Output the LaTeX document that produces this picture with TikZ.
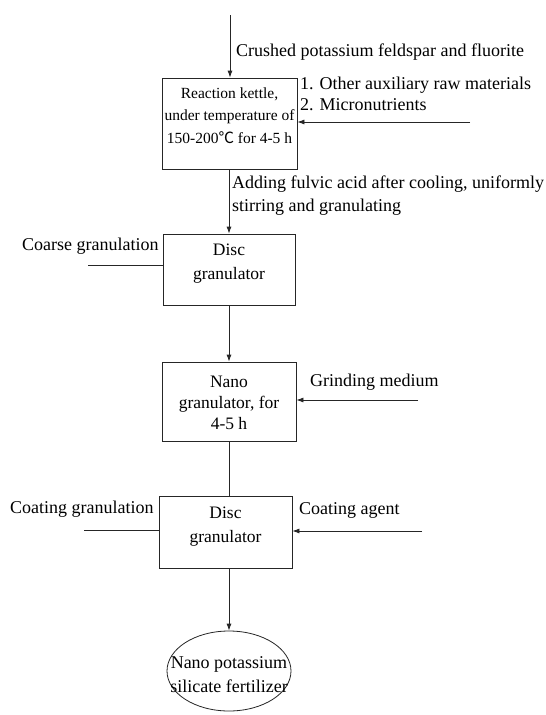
\documentclass[tikz,border=0pt]{standalone}
\usepackage{fontspec}
\setmainfont{Liberation Serif}
\newfontfamily\cjkdeg{Noto Sans CJK SC}
\usetikzlibrary{arrows.meta,shapes.geometric}
\begin{document}
\begin{tikzpicture}[x=1pt,y=-1pt,
  boxst/.style={draw=black!85,line width=0.8pt,fill=white,inner sep=0pt,rectangle},
  lbl/.style={inner sep=0pt,anchor=west,align=left,font=\fontsize{18}{21}\selectfont},
  btxt/.style={inner sep=0pt,align=center,font=\fontsize{17.5}{24}\selectfont},
  conn/.style={draw=black!85,line width=0.8pt},
  arr/.style={conn,-{Latex[length=7pt,width=5pt]}}]
\useasboundingbox[fill=white] (0,0) rectangle (546,715);

% side labels (drawn first so boxes overlap them)
\node[lbl] (crushed) at (236,52) {Crushed potassium feldspar and fluorite};
\node[lbl] (other) at (300,93.5) {1. Other auxiliary raw materials\\2. Micronutrients};
\node[lbl,font=\fontsize{18}{23}\selectfont] (adding) at (232,195.5) {Adding fulvic acid after cooling, uniformly\\stirring and granulating};
\node[lbl] (coarse) at (22,246) {Coarse granulation};
\node[lbl] (grind) at (310,382) {Grinding medium};
\node[lbl] (coatg) at (10,509) {Coating granulation};
\node[lbl] (coata) at (299,510) {Coating agent};

% boxes
\node[boxst,minimum width=135,minimum height=91] (rk) at (229.5,123.5) {};
\node[btxt,font=\fontsize{15.5}{22.5}\selectfont] (rkt) at (229.5,115.5) {Reaction kettle,\\under temperature of\\150-200{\cjkdeg\char"2103}\ for 4-5 h};
\node[boxst,minimum width=132,minimum height=71] (d1) at (229,269.5) {};
\node[btxt] (d1t) at (229,264) {Disc\\granulator};
\node[boxst,minimum width=134,minimum height=79] (nano) at (229,401.5) {};
\node[btxt,font=\fontsize{17.5}{21}\selectfont] (nanot) at (229,403) {Nano\\granulator, for\\4-5 h};
\node[boxst,minimum width=133,minimum height=72] (d2) at (225.5,532) {};
\node[btxt] (d2t) at (225.5,527) {Disc\\granulator};
\node[draw=black!85,line width=0.8pt,ellipse,minimum width=124,minimum height=80,inner sep=0pt] (fert) at (229,671) {};
\node[btxt,font=\fontsize{18}{24}\selectfont] (fertt) at (229,675) {Nano potassium\\silicate fertilizer};

% free ends
\coordinate (top) at (230,15);
\coordinate (rin) at (470,122);
\coordinate (cin) at (88,265);
\coordinate (gin) at (418,400);
\coordinate (cgin) at (84,530);
\coordinate (cain) at (422,531);

% connectors
\draw[arr] (top) -- (top |- rk.north);
\draw[arr] (rin) -- (rin -| rk.east);
\draw[arr] (rk.south -| 229,0) -- (d1.north);
\draw[conn] (cin) -- (cin -| d1.west);
\draw[arr] (d1.south) -- (nano.north);
\draw[arr] (gin) -- (gin -| nano.east);
\draw[conn] (nano.south) -- (nano.south |- d2.north);
\draw[conn] (cgin) -- (cgin -| d2.west);
\draw[arr] (cain) -- (cain -| d2.east);
\draw[arr] (d2.south -| 229,0) -- (fert.north);
\end{tikzpicture}
\end{document}
